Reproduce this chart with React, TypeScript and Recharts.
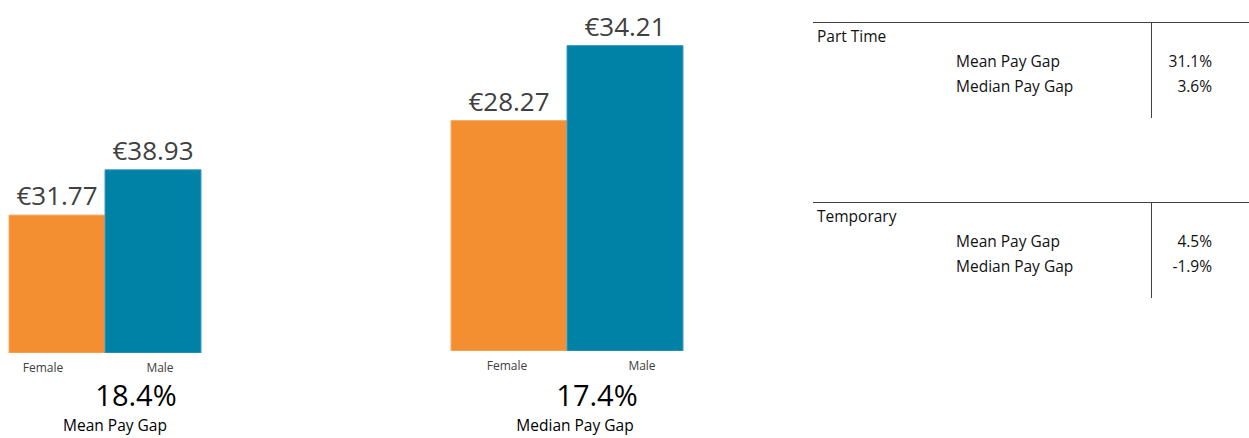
import { BarChart, Bar, XAxis, YAxis, Cell, LabelList } from 'recharts';

const genders = ['Female', 'Male'];
const meanRates = [31.77, 38.93];
const medianRates = [28.27, 34.21];
const gapValues = ['18.4%', '17.4%'];
const gapTitles = ['Mean Pay Gap', 'Median Pay Gap'];

const tableGroups = ['Part Time', 'Temporary'];
const tableMetrics = ['Mean Pay Gap', 'Median Pay Gap'];
const partTimeGaps = ['31.1%', '3.6%'];
const temporaryGaps = ['4.5%', '-1.9%'];

const FONT = '"Open Sans", "Liberation Sans", sans-serif';
const barColors = ['#F38F31', '#0081A6'];
const barStrokes = ['#F6AE6A', '#3F9CC4'];

const meanData = genders.map((g, i) => ({ name: g, value: meanRates[i] }));
const medianData = genders.map((g, i) => ({ name: g, value: medianRates[i] }));

function GenderTick({ x, y, payload, index, shifts }: any) {
  return (
    <text x={x + shifts[index]} y={y + 19} textAnchor="middle" fill="#404040" fontSize={12} fontFamily={FONT}>
      {payload.value}
    </text>
  );
}

interface PayChartProps {
  data: { name: string; value: number }[];
  width: number;
  margin: { top: number; right: number; left: number; bottom: number };
  domain: [number, number];
  shifts: number[];
}

function PayChart({ data, width, margin, domain, shifts }: PayChartProps) {
  return (
    <BarChart width={width} height={438} data={data} margin={margin} barCategoryGap={0} barGap={0}>
      <XAxis
        dataKey="name"
        axisLine={false}
        tickLine={false}
        tickSize={0}
        tickMargin={0}
        height={30}
        interval={0}
        tick={(props: any) => <GenderTick {...props} shifts={shifts} />}
      />
      <YAxis hide domain={domain} allowDataOverflow />
      <Bar dataKey="value" isAnimationActive={false} strokeWidth={1}>
        {data.map((d, i) => (
          <Cell key={d.name} fill={barColors[i]} stroke={barStrokes[i]} />
        ))}
        <LabelList
          dataKey="value"
          position="top"
          offset={10}
          fill="#404040"
          fontSize={26}
          fontFamily={FONT}
          formatter={(v: any) => '€' + Number(v).toFixed(2)}
        />
      </Bar>
    </BarChart>
  );
}

function GapCaption({ valueX, titleX, value, title }: { valueX: number; titleX: number; value: string; title: string }) {
  return (
    <>
      <div style={{ position: 'absolute', left: valueX - 60, width: 120, top: 377, textAlign: 'center', fontSize: 29, color: '#000', lineHeight: '36px' }}>
        {value}
      </div>
      <div style={{ position: 'absolute', left: titleX - 90, width: 180, top: 415, textAlign: 'center', fontSize: 15.5, color: '#000', lineHeight: '20px' }}>
        {title}
      </div>
    </>
  );
}

function GapTable({ top, group, values }: { top: number; group: string; values: string[] }) {
  return (
    <>
      <div style={{ position: 'absolute', left: 813, top, width: 436, height: 1, background: '#404040' }} />
      <div style={{ position: 'absolute', left: 1151, top, width: 1, height: 96, background: '#404040' }} />
      <div style={{ position: 'absolute', left: 817, top: top + 4, fontSize: 15.5, lineHeight: '20px', color: '#111' }}>{group}</div>
      {tableMetrics.map((m, i) => (
        <div key={m}>
          <div style={{ position: 'absolute', left: 956, top: top + 29 + i * 25, fontSize: 15.5, lineHeight: '20px', color: '#111' }}>{m}</div>
          <div style={{ position: 'absolute', left: 1112, width: 100, textAlign: 'right', top: top + 29 + i * 25, fontSize: 15.5, lineHeight: '20px', color: '#111' }}>
            {values[i]}
          </div>
        </div>
      ))}
    </>
  );
}

export default function App() {
  return (
    <div style={{ position: 'fixed', left: 0, top: 0, width: 1249, height: 438, background: '#fff', fontFamily: FONT, overflow: 'hidden' }}>
      <div style={{ position: 'absolute', left: 0, top: 0 }}>
        <PayChart data={meanData} width={230} margin={{ top: 163, right: 29, left: 9, bottom: 55 }} domain={[10, 40]} shifts={[-14, 7]} />
      </div>
      <div style={{ position: 'absolute', left: 440, top: 0 }}>
        <PayChart data={medianData} width={260} margin={{ top: 23, right: 17, left: 11, bottom: 57 }} domain={[10, 36]} shifts={[-2, 17]} />
      </div>
      <GapCaption valueX={136} titleX={115} value={gapValues[0]} title={gapTitles[0]} />
      <GapCaption valueX={597} titleX={575} value={gapValues[1]} title={gapTitles[1]} />
      <GapTable top={22} group={tableGroups[0]} values={partTimeGaps} />
      <GapTable top={202} group={tableGroups[1]} values={temporaryGaps} />
    </div>
  );
}
